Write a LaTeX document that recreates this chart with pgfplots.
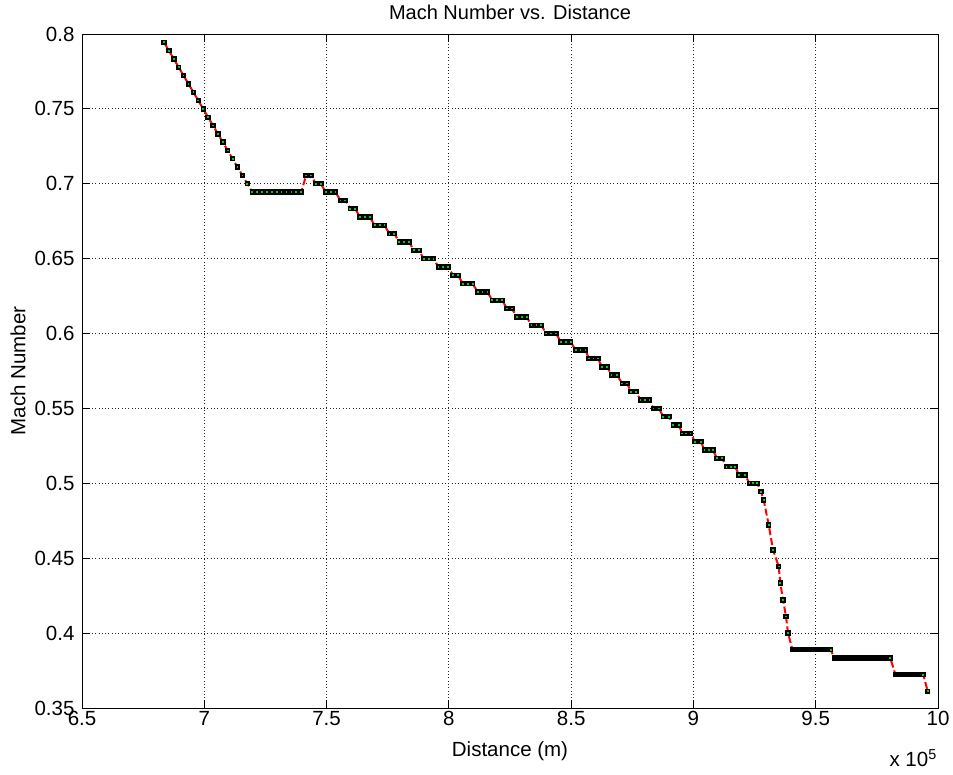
\documentclass[border=0pt]{standalone}
\usepackage{fontspec}
\setmainfont{Liberation Sans}
\usepackage{pgfplots}
\usepackage{pgfplotstable}
\pgfplotsset{compat=1.18}
\definecolor{mgreen}{RGB}{0,210,0}
\pgfplotstableread{
x y
683530 0.79444
685530 0.78889
687540 0.78333
689540 0.77778
691540 0.77222
693550 0.76667
695550 0.76111
697560 0.75556
699560 0.75
701560 0.74444
703570 0.73889
705570 0.73333
707570 0.72778
709580 0.72222
711580 0.71667
713580 0.71111
715590 0.70556
717590 0.7
719590 0.69444
721600 0.69444
723600 0.69444
725600 0.69444
727610 0.69444
729610 0.69444
731610 0.69444
733620 0.69444
735620 0.69444
737630 0.69444
739630 0.69444
741630 0.70556
743640 0.70556
745640 0.7
747640 0.7
749650 0.69444
751650 0.69444
753650 0.69444
755660 0.68889
757660 0.68889
759660 0.68333
761670 0.68333
763670 0.67778
765670 0.67778
767680 0.67778
769680 0.67222
771680 0.67222
773690 0.67222
775690 0.66667
777700 0.66667
779700 0.66111
781700 0.66111
783710 0.66111
785710 0.65556
787710 0.65556
789720 0.65
791720 0.65
793720 0.65
795730 0.64444
797730 0.64444
799730 0.64444
801740 0.63889
803740 0.63889
805740 0.63333
807750 0.63333
809750 0.63333
811750 0.62778
813760 0.62778
815760 0.62778
817760 0.62222
819770 0.62222
821770 0.62222
823780 0.61667
825780 0.61667
827780 0.61111
829790 0.61111
831790 0.61111
833790 0.60556
835800 0.60556
837800 0.60556
839800 0.6
841810 0.6
843810 0.6
845810 0.59444
847820 0.59444
849820 0.59444
851820 0.58889
853830 0.58889
855830 0.58889
857260 0.58333
859100 0.58333
860910 0.58333
862620 0.57778
864660 0.57778
866500 0.57222
868750 0.57222
870880 0.56667
872880 0.56667
874480 0.56111
876520 0.56111
878360 0.55556
880200 0.55556
882040 0.55556
883670 0.55
885920 0.55
887640 0.54444
889930 0.54444
891730 0.53889
894020 0.53889
895410 0.53333
897090 0.53333
898800 0.53333
900640 0.52778
903010 0.52778
904530 0.52222
906200 0.52222
907920 0.52222
909640 0.51667
911680 0.51667
913520 0.51111
915280 0.51111
917040 0.51111
918630 0.50556
921090 0.50556
922930 0.5
924480 0.5
926040 0.5
927630 0.49444
928730 0.48889
930780 0.47222
932540 0.45556
934870 0.44444
935520 0.43333
936630 0.42222
937850 0.41111
938670 0.4
940500 0.38889
941100 0.38889
941700 0.38889
942300 0.38889
942900 0.38889
943500 0.38889
944100 0.38889
944700 0.38889
945300 0.38889
945900 0.38889
946500 0.38889
947100 0.38889
947700 0.38889
948300 0.38889
948900 0.38889
949500 0.38889
950100 0.38889
950700 0.38889
951300 0.38889
951900 0.38889
952500 0.38889
953100 0.38889
953700 0.38889
954300 0.38889
954900 0.38889
955500 0.38889
956100 0.38889
957700 0.38333
958300 0.38333
958900 0.38333
959500 0.38333
960100 0.38333
960700 0.38333
961300 0.38333
961900 0.38333
962500 0.38333
963100 0.38333
963700 0.38333
964300 0.38333
964900 0.38333
965500 0.38333
966100 0.38333
966700 0.38333
967300 0.38333
967900 0.38333
968500 0.38333
969100 0.38333
969700 0.38333
970300 0.38333
970900 0.38333
971500 0.38333
972100 0.38333
972700 0.38333
973300 0.38333
973900 0.38333
974500 0.38333
975100 0.38333
975700 0.38333
976300 0.38333
976900 0.38333
977500 0.38333
978100 0.38333
978700 0.38333
979300 0.38333
979900 0.38333
980500 0.38333
982600 0.37222
983200 0.37222
983800 0.37222
984400 0.37222
985000 0.37222
985600 0.37222
986200 0.37222
986800 0.37222
987400 0.37222
988000 0.37222
988600 0.37222
989200 0.37222
989800 0.37222
990400 0.37222
991000 0.37222
991600 0.37222
992200 0.37222
992800 0.37222
993400 0.37222
994000 0.37222
995790 0.36111
}\machdata

\begin{document}
\begin{tikzpicture}[x=1bp,y=1bp]
\useasboundingbox (0,0) rectangle (953,775);
\begin{axis}[
  at={(82bp,67bp)}, anchor=south west,
  scale only axis, width=856bp, height=674bp,
  xmin=650000, xmax=1000000, ymin=0.35, ymax=0.8,
  clip mode=individual,
  xtick={650000,700000,750000,800000,850000,900000,950000,1000000},
  ytick={0.35,0.4,0.45,0.5,0.55,0.6,0.65,0.7,0.75,0.8},
  scaled x ticks=base 10:-5,
  xtick scale label code/.code={},
  scaled y ticks=false,
  /pgf/number format/assume math mode=true,
  tick label style={font=\fontsize{20.5bp}{24bp}\selectfont},
  every axis title/.style={at={(axis description cs:0.5,1.0208)}, anchor=base, font=\fontsize{20bp}{24bp}\selectfont},
  every axis x label/.style={at={(axis description cs:0.5,-0.0727)}, anchor=base, font=\fontsize{20.5bp}{24bp}\selectfont},
  every axis y label/.style={at={(axis description cs:-0.0748,0.5)}, anchor=center, rotate=90, font=\fontsize{20.5bp}{24bp}\selectfont},
  title={Mach Number vs. Distance},
  xlabel={Distance (m)},
  ylabel={Mach Number},
  tick align=inside, xtick pos=both, ytick pos=both,
  major tick length=8bp,
  grid=major,
  major grid style={black!85, line width=0.9bp, dash pattern=on 0.9bp off 2.4bp},
  axis line style={line width=0.9bp, black},
  every tick/.style={black, line width=0.9bp},
  yticklabel style={xshift=-4bp},
]
\addplot[red, line width=2bp, dash pattern=on 7bp off 3bp,
  mark=square*, mark size=1.8bp,
  mark options={solid, draw=black, fill=mgreen, line width=1.8bp}]
  table[x=x, y=y] {\machdata};
\node[anchor=base east, font=\fontsize{20.5bp}{24bp}\selectfont, inner sep=0pt]
  at (axis description cs:0.9988,-0.0875) {x 10\textsuperscript{5}};
\end{axis}
\end{tikzpicture}
\end{document}
